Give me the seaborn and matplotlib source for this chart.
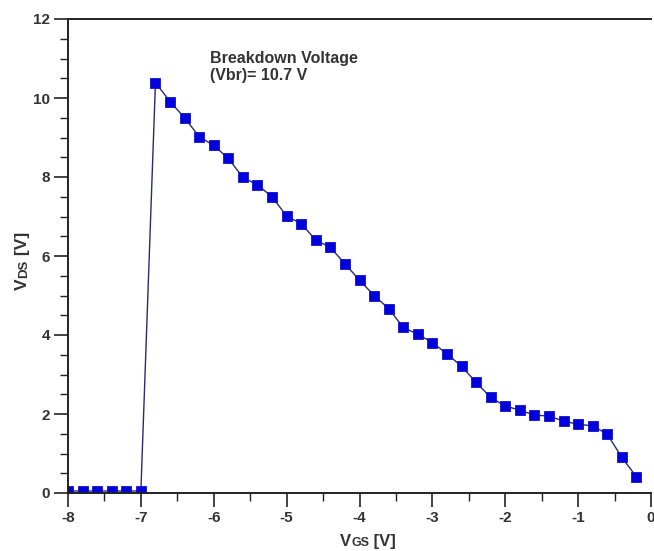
import matplotlib
matplotlib.use("Agg")
import matplotlib.pyplot as plt
import seaborn as sns
import pandas as pd
from matplotlib.ticker import MultipleLocator

# Data
vgs = [-8.0, -7.8, -7.6, -7.4, -7.2, -7.0,
       -6.8, -6.6, -6.4, -6.2, -6.0, -5.8, -5.6, -5.4, -5.2, -5.0,
       -4.8, -4.6, -4.4, -4.2, -4.0, -3.8, -3.6, -3.4, -3.2, -3.0,
       -2.8, -2.6, -2.4, -2.2, -2.0, -1.8, -1.6, -1.4, -1.2, -1.0,
       -0.8, -0.6, -0.4, -0.2]
vds = [0.05, 0.05, 0.05, 0.05, 0.05, 0.05,
       10.39, 9.91, 9.50, 9.02, 8.80, 8.47, 7.99, 7.80, 7.50, 7.01,
       6.82, 6.40, 6.22, 5.80, 5.39, 5.00, 4.67, 4.19, 4.02, 3.81,
       3.52, 3.21, 2.80, 2.42, 2.20, 2.10, 1.97, 1.95, 1.82, 1.74,
       1.70, 1.49, 0.90, 0.41]
x_ticks = [-8, -7, -6, -5, -4, -3, -2, -1, 0]
y_ticks = [0, 2, 4, 6, 8, 10, 12]
annotation = "Breakdown Voltage\n(Vbr)= 10.7 V"
xlabel_parts = [("V", 12), ("GS", 9), (" [V]", 12)]
ylabel_parts = [("V", 12.5), ("DS", 9.5), (" [V]", 12.5)]

df = pd.DataFrame({"VGS": vgs, "VDS": vds})

sns.set_style("white")
plt.rcParams['font.family'] = ['Liberation Sans', 'DejaVu Sans']

W, H = 654, 551
fig = plt.figure(figsize=(W / 100, H / 100), dpi=100)
ax = fig.add_axes([68 / W, 1 - 493 / H, (651 - 68) / W, (493 - 19) / H])

sns.lineplot(data=df, x="VGS", y="VDS", ax=ax, color="#2a2a70", linewidth=1.0,
             marker="s", markersize=7.8, markerfacecolor="#0000dd",
             markeredgecolor="#1010c8", markeredgewidth=0.6)

ax.set_xlim(-8, 0)
ax.set_ylim(0, 12)
ax.set_xticks(x_ticks)
ax.set_yticks(y_ticks)
ax.set_xticklabels([str(t) for t in x_ticks])
ax.set_yticklabels([str(t) for t in y_ticks])
ax.xaxis.set_minor_locator(MultipleLocator(0.5))
ax.yaxis.set_minor_locator(MultipleLocator(0.5))
ax.tick_params(which="major", direction="out", length=10, width=1.2, color="#222222",
               labelsize=11, labelcolor="#333333", pad=3)
ax.tick_params(which="minor", direction="out", length=6, width=1.0, color="#222222")
ax.tick_params(axis="x", which="both", bottom=True)
ax.tick_params(axis="y", which="both", left=True)
for lab in ax.get_xticklabels() + ax.get_yticklabels():
    lab.set_fontweight("bold")

for side in ["left", "bottom", "top"]:
    ax.spines[side].set_visible(True)
    ax.spines[side].set_color("#222222")
    ax.spines[side].set_linewidth(1.4)
ax.spines["right"].set_visible(False)
ax.set_xlabel("")
ax.set_ylabel("")

lab_col = "#333333"
fig.text(210 / W, 1 - 51 / H, annotation, fontsize=11.5, fontweight="bold",
         color=lab_col, va="top", ha="left", linespacing=1.15)

renderer = fig.canvas.get_renderer()

# x label pieces, left to right along baseline (pixel coords, origin bottom-left)
px, py = 340, H - 546
for txt, fs in xlabel_parts:
    t = fig.text(px / W, py / H, txt, fontsize=fs, fontweight="bold", color=lab_col,
                 ha="left", va="baseline")
    bb = t.get_window_extent(renderer)
    px = bb.x1

# y label pieces, bottom to top, rotated 90
bx, by = 27, H - 290
for txt, fs in ylabel_parts:
    t = fig.text(bx / W, by / H, txt, fontsize=fs, fontweight="bold", color=lab_col,
                 ha="left", va="baseline", rotation=90, rotation_mode="anchor")
    bb = t.get_window_extent(renderer)
    by = bb.y1

fig.savefig("out.png", dpi=100)
